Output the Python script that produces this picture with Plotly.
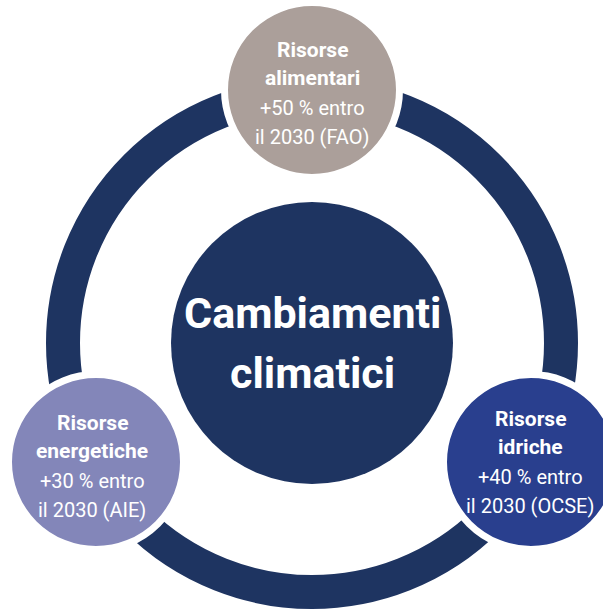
import plotly.graph_objects as go

# Data
center_label = ["Cambiamenti", "climatici"]
resources = ["alimentari", "idriche", "energetiche"]
increases = [50, 40, 30]
sources = ["FAO", "OCSE", "AIE"]
target_year = 2030
colors = ["#ab9f9a", "#293f8e", "#8386b9"]
navy = "#1e3461"

# Layout geometry (pixels, y down)
W, H = 603, 610
ring_c = (312, 343)
ring_r_outer, ring_w = 266, 34
core_c, core_r = (312, 343), 141
sat_pos = [(312, 90), (531, 462), (96, 462)]
sat_r = 84
border = 7
text_pos = [(312, 93), (530, 462), (92, 466)]
line_offsets = [-43, -15, 15, 44]

fig = go.Figure()
fig.add_trace(go.Scatter(x=[0, W], y=[0, H], mode="markers",
                         marker=dict(opacity=0), hoverinfo="skip", showlegend=False))

shapes = []
rc = ring_r_outer - ring_w / 2
shapes.append(dict(type="circle", xref="x", yref="y",
                   x0=ring_c[0] - rc, x1=ring_c[0] + rc, y0=ring_c[1] - rc, y1=ring_c[1] + rc,
                   line=dict(color=navy, width=ring_w), fillcolor="rgba(0,0,0,0)", layer="below"))
shapes.append(dict(type="circle", xref="x", yref="y",
                   x0=core_c[0] - core_r, x1=core_c[0] + core_r,
                   y0=core_c[1] - core_r, y1=core_c[1] + core_r,
                   line=dict(width=0), fillcolor=navy, layer="below"))
for (cx, cy), col in zip(sat_pos, colors):
    r = sat_r + border / 2
    shapes.append(dict(type="circle", xref="x", yref="y",
                       x0=cx - r, x1=cx + r, y0=cy - r, y1=cy + r,
                       line=dict(color="white", width=border), fillcolor=col, layer="below"))

annotations = []
for i, t in enumerate(center_label):
    annotations.append(dict(x=core_c[0], y=313 + 60 * i, xref="x", yref="y",
                            text=f"<b>{t}</b>", showarrow=False,
                            font=dict(family="Roboto", size=43, color="white")))
for (tx, ty), res, inc, src in zip(text_pos, resources, increases, sources):
    lines = [("<b>Risorse</b>", 21), (f"<b>{res}</b>", 21),
             (f"+{inc} % entro", 20), (f"il {target_year} ({src})", 20)]
    for off, (ln, fs) in zip(line_offsets, lines):
        annotations.append(dict(x=tx, y=ty + off, xref="x", yref="y", text=ln, showarrow=False,
                                font=dict(family="Roboto", size=fs, color="white")))

fig.update_layout(width=W, height=H, margin=dict(l=0, r=0, t=0, b=0),
                  paper_bgcolor="white", plot_bgcolor="white",
                  xaxis=dict(range=[0, W], visible=False, fixedrange=True),
                  yaxis=dict(range=[H, 0], visible=False, fixedrange=True),
                  shapes=shapes, annotations=annotations, showlegend=False)
fig.write_html("out.html", config={"displayModeBar": False})

# remove default body margin so the figure sits at the window's top-left corner
with open("out.html", encoding="utf-8") as f:
    html = f.read()
html = html.replace("<body>", '<body style="margin:0;overflow:hidden">', 1)
with open("out.html", "w", encoding="utf-8") as f:
    f.write(html)
